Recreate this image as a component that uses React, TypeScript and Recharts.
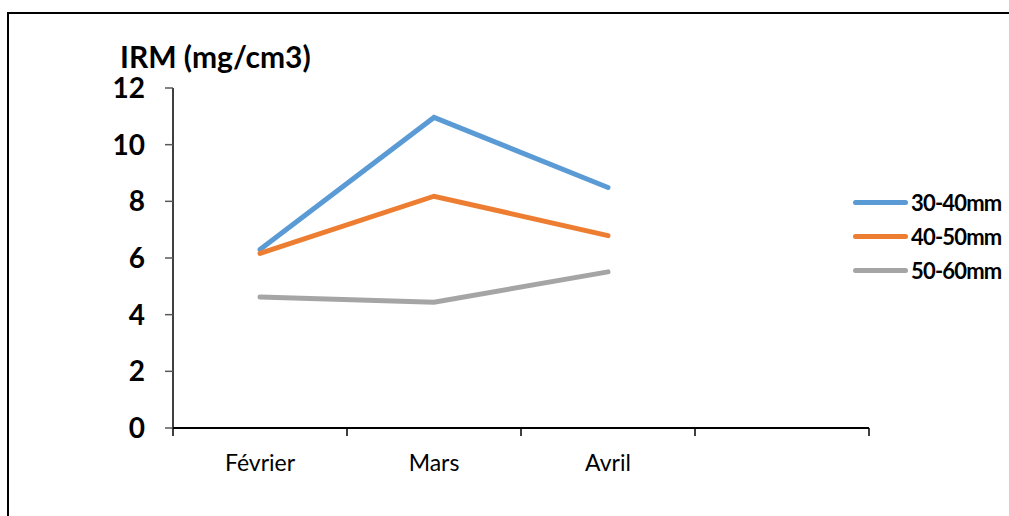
import React from 'react';
import { LineChart, Line, XAxis, YAxis, Legend } from 'recharts';

// categories (last slot is empty in the original chart)
const months = ['Février', 'Mars', 'Avril', ''];

// IRM (mg/cm3) per size class
const irm3040 = [6.3, 10.96, 8.49];
const irm4050 = [6.16, 8.18, 6.79];
const irm5060 = [4.62, 4.44, 5.51];

const yTicks = [0, 2, 4, 6, 8, 10, 12];

const series = [
  { name: '30-40mm', values: irm3040, color: '#5B9BD5' },
  { name: '40-50mm', values: irm4050, color: '#ED7D31' },
  { name: '50-60mm', values: irm5060, color: '#A5A5A5' },
];

const FONT = 'Lato, "Open Sans", sans-serif';

const data = irm3040.map((_, i) => {
  const row: Record<string, number | string> = { x: i + 0.5, month: months[i] };
  series.forEach((s) => {
    row[s.name] = s.values[i];
  });
  return row;
});

// boundaries get a tick mark, centres get the month label (Excel style)
const xTicks: number[] = [];
for (let i = 0; i <= months.length; i++) {
  xTicks.push(i);
  if (i < months.length) xTicks.push(i + 0.5);
}

const XTick = (props: any) => {
  const { x, y, payload } = props;
  const v = payload.value as number;
  if (Number.isInteger(v)) {
    return <line x1={x} y1={y} x2={x} y2={y + 8} stroke="#000" strokeWidth={1.5} />;
  }
  return (
    <text x={x} y={y + 27} dy="0.71em" textAnchor="middle" fontFamily={FONT} fontSize={23} fill="#000">
      {months[Math.floor(v)]}
    </text>
  );
};

const LegendContent = () => (
  <div style={{ fontFamily: FONT }}>
    {series.map((s) => (
      <div key={s.name} style={{ display: 'flex', alignItems: 'center', height: 34 }}>
        <div style={{ width: 55, height: 5, borderRadius: 3, background: s.color, marginRight: 3 }} />
        <span style={{ fontSize: 22, fontWeight: 700, letterSpacing: -0.8, color: '#000' }}>{s.name}</span>
      </div>
    ))}
  </div>
);

export default function App() {
  return (
    <div style={{ position: 'fixed', left: 0, top: 0, width: 1009, height: 516, overflow: 'hidden', background: '#fff' }}>
      <div
        style={{
          position: 'absolute',
          left: 7,
          top: 12,
          width: 1100,
          height: 600,
          border: '2px solid #000',
        }}
      />
      <div
        style={{
          position: 'absolute',
          left: 120,
          top: 38,
          fontFamily: FONT,
          fontSize: 30,
          fontWeight: 700,
          lineHeight: '36px',
          color: '#000',
        }}
      >
        IRM (mg/cm3)
      </div>
      <div style={{ position: 'absolute', left: 0, top: 0 }}>
        <LineChart width={1009} height={516} data={data} margin={{ top: 88, right: 140, left: 0, bottom: 28 }}>
          <XAxis
            dataKey="x"
            type="number"
            domain={[0, months.length]}
            ticks={xTicks}
            interval={0}
            height={60}
            tickSize={0}
            tickMargin={0}
            tickLine={false}
            tick={<XTick />}
            axisLine={{ stroke: '#000', strokeWidth: 2 }}
          />
          <YAxis
            domain={[0, 12]}
            ticks={yTicks}
            width={173}
            tickSize={8}
            tickMargin={20}
            interval={0}
            axisLine={{ stroke: '#000', strokeWidth: 1.5 }}
            tickLine={{ stroke: '#595959', strokeWidth: 1.5 }}
            tick={{ fontFamily: FONT, fontSize: 28, fontWeight: 700, fill: '#000' }}
          />
          <Legend
            layout="vertical"
            align="center"
            verticalAlign="middle"
            content={<LegendContent />}
            wrapperStyle={{ left: 853, top: 185, width: 156, height: 'auto' }}
          />
          {series.map((s) => (
            <Line
              key={s.name}
              type="linear"
              dataKey={s.name}
              stroke={s.color}
              strokeWidth={5}
              strokeLinecap="round"
              dot={false}
              activeDot={false}
              isAnimationActive={false}
            />
          ))}
        </LineChart>
      </div>
    </div>
  );
}
